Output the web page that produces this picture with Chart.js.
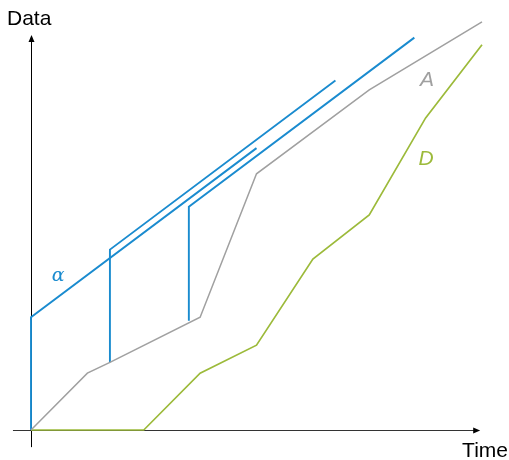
<!DOCTYPE html>
<html>
<head>
<meta charset="utf-8">
<script src="https://cdn.jsdelivr.net/npm/chart.js@4/dist/chart.umd.min.js"></script>
<style>
  html, body { margin: 0; padding: 0; background: #fff; }
  #wrap { width: 509px; height: 460px; position: relative; }
</style>
</head>
<body>
<div id="wrap"><canvas id="c"></canvas></div>
<script>
// Time positions and data values for each curve
const timeA = [0, 1.25, 1.75, 3.75, 5, 7.5, 10];
const dataA = [0, 1.26, 1.5, 2.5, 5.68, 7.54, 9.05];

const timeD = [0, 2.5, 3.75, 5, 6.25, 7.5, 8.75, 10];
const dataD = [0, 0, 1.26, 1.88, 3.79, 4.77, 6.92, 8.54];

// Three α branches: vertical jump, then a straight rise
const timeAlpha1 = [0, 0, 5];
const dataAlpha1 = [0, 2.5, 6.25];
const timeAlpha2 = [1.75, 1.75, 6.75];
const dataAlpha2 = [1.5, 4.0, 7.75];
const timeAlpha3 = [3.5, 3.5, 8.5];
const dataAlpha3 = [2.42, 4.95, 8.7];

const axisTitles = { x: 'Time', y: 'Data' };
const curveLabels = [
  { text: 'α', t: 0.6, v: 3.42, color: '#1a8bcf', font: 'italic 19px "DejaVu Serif"' },
  { text: 'A', t: 8.78, v: 7.75, color: '#a0a0a0', font: 'italic 21px "Liberation Sans"' },
  { text: 'D', t: 8.76, v: 6.0, color: '#9cba3a', font: 'italic 21px "Liberation Sans"' }
];

const pts = (ts, vs) => ts.map((t, i) => ({ x: t, y: vs[i] }));

const BLUE = '#1a8bcf', GRAY = '#a0a0a0', GREEN = '#9cba3a';

// one data unit spans 45.1 px on both axes
const U = 45.1;
const W = 509, H = 460;
const xMin = -31 / U, xMax = xMin + W / U;
const yMin = -30 / U, yMax = yMin + H / U;

const axesPlugin = {
  id: 'axesAndLabels',
  beforeDatasetsDraw(chart) {
    const { ctx } = chart;
    const xs = chart.scales.x, ys = chart.scales.y;
    const x0 = xs.getPixelForValue(0), y0 = ys.getPixelForValue(0);
    ctx.save();
    ctx.strokeStyle = '#000';
    ctx.fillStyle = '#000';
    ctx.lineWidth = 1;
    // vertical axis
    const yTop = ys.getPixelForValue(8.76), yBot = ys.getPixelForValue(-0.38);
    ctx.beginPath();
    ctx.moveTo(Math.round(x0) + 0.5, yBot);
    ctx.lineTo(Math.round(x0) + 0.5, yTop + 5);
    ctx.stroke();
    ctx.beginPath();
    ctx.moveTo(Math.round(x0) + 0.5, yTop);
    ctx.lineTo(Math.round(x0) + 0.5 - 3, yTop + 7);
    ctx.lineTo(Math.round(x0) + 0.5 + 3, yTop + 7);
    ctx.closePath();
    ctx.fill();
    // horizontal axis
    const xL = xs.getPixelForValue(-0.4), xR = xs.getPixelForValue(9.96);
    ctx.strokeStyle = '#333';
    ctx.beginPath();
    ctx.moveTo(xL, Math.round(y0) + 0.5);
    ctx.lineTo(xR - 5, Math.round(y0) + 0.5);
    ctx.stroke();
    ctx.fillStyle = '#000';
    ctx.beginPath();
    ctx.moveTo(xR, Math.round(y0) + 0.5);
    ctx.lineTo(xR - 7, Math.round(y0) + 0.5 - 3);
    ctx.lineTo(xR - 7, Math.round(y0) + 0.5 + 3);
    ctx.closePath();
    ctx.fill();
    ctx.restore();
  },
  afterDatasetsDraw(chart) {
    const { ctx } = chart;
    const xs = chart.scales.x, ys = chart.scales.y;
    ctx.save();
    ctx.fillStyle = '#000';
    ctx.font = '21px "Liberation Sans", Arial, sans-serif';
    ctx.textBaseline = 'alphabetic';
    ctx.textAlign = 'left';
    ctx.fillText(axisTitles.y, 7, 25);
    ctx.textAlign = 'right';
    ctx.fillText(axisTitles.x, 508, 457);
    ctx.textAlign = 'center';
    ctx.textBaseline = 'middle';
    curveLabels.forEach(l => {
      ctx.fillStyle = l.color;
      ctx.font = l.font;
      ctx.fillText(l.text, xs.getPixelForValue(l.t), ys.getPixelForValue(l.v));
    });
    ctx.restore();
  }
};

const lineDs = (label, data, color, width) => ({
  label, data, borderColor: color, backgroundColor: color,
  borderWidth: width, pointRadius: 0, tension: 0, fill: false, clip: false
});

new Chart(document.getElementById('c'), {
  type: 'line',
  data: {
    datasets: [
      lineDs('A', pts(timeA, dataA), GRAY, 1.5),
      lineDs('D', pts(timeD, dataD), GREEN, 1.7),
      lineDs('α1', pts(timeAlpha1, dataAlpha1), BLUE, 1.9),
      lineDs('α2', pts(timeAlpha2, dataAlpha2), BLUE, 1.9),
      lineDs('α3', pts(timeAlpha3, dataAlpha3), BLUE, 1.9)
    ]
  },
  options: {
    responsive: true,
    maintainAspectRatio: false,
    animation: false,
    layout: { padding: 0 },
    plugins: { legend: { display: false }, tooltip: { enabled: false }, title: { display: false } },
    scales: {
      x: { type: 'linear', min: xMin, max: xMax, display: false },
      y: { type: 'linear', min: yMin, max: yMax, display: false }
    }
  },
  plugins: [axesPlugin]
});
</script>
</body>
</html>
